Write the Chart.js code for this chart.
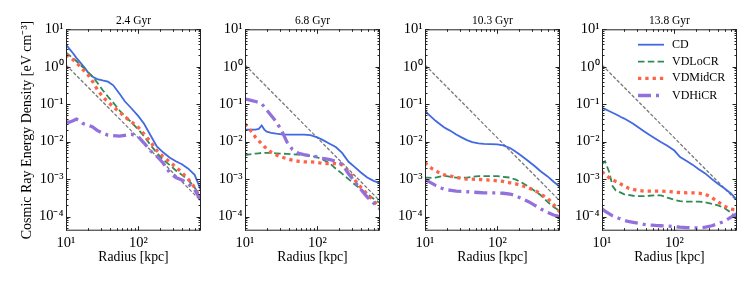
<!DOCTYPE html>
<html>
<head>
<meta charset="utf-8">
<script src="https://cdn.jsdelivr.net/npm/chart.js@4.4.0/dist/chart.umd.min.js"></script>
<style>
  body { margin: 0; background: #fff; }
  #wrap { position: relative; width: 753px; height: 283px; }
  #wrap canvas { position: absolute; top: 0; }
</style>
</head>
<body>
<div id="wrap">
  <canvas id="c0" width="203" height="283" style="left:0px"></canvas>
  <canvas id="c1" width="181" height="283" style="left:201px"></canvas>
  <canvas id="c2" width="181" height="283" style="left:381px"></canvas>
  <canvas id="c3" width="181" height="283" style="left:558px"></canvas>
</div>
<script>
// radii in kpc, shared by every curve
const radius = [10, 11, 12.5, 14, 15.5, 17, 18.5, 20, 23, 27, 32, 38, 45, 55, 65, 80, 100, 120, 150, 180, 220, 270, 330, 400, 490, 600, 735];

// grey reference line (two end points)
const refRadius = [10, 735];
const refLine = [1.12, 2.6e-4];

const times = ["2.4 Gyr", "6.8 Gyr", "10.3 Gyr", "13.8 Gyr"];
const names = ["CD", "VDLoCR", "VDMidCR", "VDHiCR"];

// 2.4 Gyr
const cd24 = [3.9, 3.1, 2.3, 1.7, 1.35, 1.1, 0.9, 0.72, 0.55, 0.47, 0.43, 0.40, 0.32, 0.19, 0.12, 0.078, 0.048, 0.030, 0.014, 0.0075, 0.0052, 0.0038, 0.003, 0.0025, 0.0019, 0.0013, 0.0005];
const lo24 = [2.4, 2.05, 1.7, 1.4, 1.17, 0.98, 0.85, 0.72, 0.56, 0.38, 0.24, 0.16, 0.11, 0.068, 0.048, 0.033, 0.021, 0.014, 0.0078, 0.005, 0.0033, 0.0024, 0.0017, 0.0013, 0.00095, 0.0006, 0.00032];
const mid24 = [2.1, 1.85, 1.55, 1.25, 1.05, 0.85, 0.73, 0.62, 0.42, 0.25, 0.16, 0.115, 0.085, 0.062, 0.046, 0.034, 0.024, 0.016, 0.0095, 0.0058, 0.004, 0.0029, 0.0021, 0.0015, 0.001, 0.0006, 0.00028];
const hi24 = [0.034, 0.033, 0.036, 0.040, 0.036, 0.031, 0.029, 0.028, 0.025, 0.020, 0.017, 0.015, 0.0145, 0.014, 0.0148, 0.0158, 0.0135, 0.0092, 0.0055, 0.0041, 0.0027, 0.0015, 0.0011, 0.00095, 0.00075, 0.00052, 0.00028];

// 6.8 Gyr
const cd68 = [0.021, 0.021, 0.021, 0.021, 0.022, 0.027, 0.021, 0.0185, 0.0172, 0.0163, 0.0157, 0.0155, 0.0155, 0.0155, 0.0155, 0.015, 0.013, 0.011, 0.0087, 0.0072, 0.005, 0.0029, 0.0021, 0.0015, 0.0011, 0.0009, 0.00078];
const lo68 = [0.0043, 0.0045, 0.0047, 0.0048, 0.0049, 0.005, 0.005, 0.005, 0.005, 0.0049, 0.0048, 0.0047, 0.0046, 0.0045, 0.0044, 0.0042, 0.0038, 0.0033, 0.0026, 0.0019, 0.0014, 0.001, 0.00072, 0.00054, 0.0004, 0.0003, 0.00023];
const mid68 = [0.03, 0.024, 0.018, 0.013, 0.0105, 0.0088, 0.0074, 0.0065, 0.0052, 0.0044, 0.0039, 0.0035, 0.0032, 0.003, 0.0029, 0.0029, 0.0028, 0.0026, 0.0026, 0.0026, 0.0024, 0.0016, 0.00095, 0.0006, 0.0004, 0.00026, 0.00017];
const hi68 = [0.137, 0.132, 0.125, 0.118, 0.112, 0.103, 0.085, 0.07, 0.05, 0.034, 0.02, 0.0098, 0.0063, 0.0049, 0.0045, 0.0042, 0.0039, 0.0036, 0.0033, 0.003, 0.0025, 0.0014, 0.00085, 0.00053, 0.00033, 0.00023, 0.00016];

// 10.3 Gyr
const cd103 = [0.068, 0.055, 0.044, 0.036, 0.031, 0.027, 0.024, 0.022, 0.019, 0.0155, 0.013, 0.011, 0.0097, 0.009, 0.0087, 0.0086, 0.0085, 0.008, 0.0068, 0.0054, 0.0041, 0.003, 0.0022, 0.0016, 0.0012, 0.00085, 0.00062];
const lo103 = [0.0011, 0.0011, 0.00108, 0.0011, 0.00115, 0.0012, 0.0012, 0.0012, 0.00115, 0.0011, 0.0011, 0.0011, 0.00115, 0.0012, 0.0012, 0.0012, 0.0012, 0.00115, 0.0011, 0.00097, 0.0008, 0.00063, 0.00048, 0.00037, 0.00025, 0.00018, 0.00014];
const mid103 = [0.0028, 0.0023, 0.0019, 0.0017, 0.0015, 0.0014, 0.0013, 0.00125, 0.0012, 0.0011, 0.00105, 0.001, 0.001, 0.00098, 0.00096, 0.00094, 0.0009, 0.00087, 0.0008, 0.00075, 0.00067, 0.00058, 0.0005, 0.0004, 0.00031, 0.00021, 0.00013];
const hi103 = [0.001, 0.00088, 0.00077, 0.00068, 0.00062, 0.00057, 0.00054, 0.00052, 0.0005, 0.00048, 0.00047, 0.00046, 0.00045, 0.00044, 0.00043, 0.00043, 0.00043, 0.00042, 0.0004, 0.00036, 0.0003, 0.00025, 0.0002, 0.00016, 0.00013, 0.00011, 0.0001];

// 13.8 Gyr
const cd138 = [0.08, 0.074, 0.066, 0.059, 0.054, 0.049, 0.045, 0.042, 0.036, 0.030, 0.024, 0.019, 0.0152, 0.012, 0.0098, 0.0078, 0.0058, 0.0039, 0.003, 0.0024, 0.0018, 0.0014, 0.001, 0.00075, 0.00057, 0.00042, 0.00028];
const lo138 = [0.0025, 0.003, 0.0016, 0.00065, 0.0005, 0.00046, 0.00043, 0.0004, 0.00038, 0.00036, 0.00035, 0.00035, 0.00036, 0.00037, 0.00037, 0.00032, 0.00028, 0.00026, 0.00025, 0.00025, 0.00025, 0.00024, 0.00022, 0.0002, 0.00017, 0.00013, 0.00009];
const mid138 = [0.0016, 0.0013, 0.0011, 0.00095, 0.00087, 0.00082, 0.00072, 0.00066, 0.00058, 0.00053, 0.0005, 0.00048, 0.00048, 0.00048, 0.00048, 0.00047, 0.00045, 0.00044, 0.00043, 0.00043, 0.00042, 0.00039, 0.00032, 0.00025, 0.00019, 0.00016, 0.00015];
const hi138 = [0.00016, 0.00014, 0.00012, 0.000105, 0.000097, 0.00009, 0.000085, 0.00008, 0.000074, 0.00007, 0.000066, 0.000062, 0.00006, 0.000058, 0.000057, 0.000056, 0.000054, 0.000052, 0.000051, 0.00005, 0.00005, 0.000052, 0.000057, 0.000064, 0.000075, 0.000095, 0.00012];

const xTicks = [10, 100];
const yTicks = [1e-4, 1e-3, 1e-2, 1e-1, 1, 10];

const panels = [
  [cd24, lo24, mid24, hi24],
  [cd68, lo68, mid68, hi68],
  [cd103, lo103, mid103, hi103],
  [cd138, lo138, mid138, hi138],
];

const styles = [
  { color: "#4169e1", width: 1.8, dash: [] },
  { color: "#2e8b57", width: 1.8, dash: [6.5, 3.3] },
  { color: "#ff6347", width: 3.3, dash: [3.3, 4] },
  { color: "#9370db", width: 3.3, dash: [13, 5, 3, 5] },
];

const serif = "'Liberation Serif', 'Times New Roman', serif";
const axW = [66, 44, 44, 44];

const sup = { "-": "\u207b", "0": "\u2070", "1": "\u00b9", "2": "\u00b2", "3": "\u00b3", "4": "\u2074" };
function pow10(v) {
  const e = Math.round(Math.log10(v));
  return "10" + String(e).split("").map((c) => sup[c]).join("");
}

// inward ticks on all four sides + frame
const framePlugin = {
  id: "frame",
  afterDraw(chart) {
    const { ctx, chartArea: a } = chart;
    const x = chart.scales.x, y = chart.scales.y;
    ctx.save();
    ctx.strokeStyle = "#222";
    ctx.lineWidth = 1;
    ctx.beginPath();
    for (let n = 1; n <= 2; n++) {
      for (let k = 1; k <= 9; k++) {
        const v = k * Math.pow(10, n);
        if (v > x.max) continue;
        const px = Math.round(x.getPixelForValue(v)) + 0.5;
        const len = k === 1 ? 4.5 : 2.5;
        ctx.moveTo(px, a.bottom); ctx.lineTo(px, a.bottom - len);
        ctx.moveTo(px, a.top); ctx.lineTo(px, a.top + len);
      }
    }
    for (let n = -5; n <= 1; n++) {
      for (let k = 1; k <= 9; k++) {
        const v = k * Math.pow(10, n);
        if (v < y.min || v > y.max) continue;
        const py = Math.round(y.getPixelForValue(v)) + 0.5;
        const len = k === 1 ? 4.5 : 2.5;
        ctx.moveTo(a.left, py); ctx.lineTo(a.left + len, py);
        ctx.moveTo(a.right, py); ctx.lineTo(a.right - len, py);
      }
    }
    ctx.stroke();
    ctx.strokeRect(a.left + 0.5, a.top + 0.5, a.right - a.left - 1, a.bottom - a.top - 1);
    ctx.restore();
  },
};

// legend drawn inside the last panel
const legendPlugin = {
  id: "insideLegend",
  afterDraw(chart) {
    const { ctx, chartArea: a } = chart;
    const rows = [15.4, 32.4, 49, 66.2];
    ctx.save();
    chart.data.datasets.slice(0, 4).forEach((ds, k) => {
      const yy = a.top + rows[k];
      ctx.strokeStyle = ds.borderColor;
      ctx.lineWidth = ds.borderWidth;
      ctx.setLineDash(ds.borderDash);
      ctx.lineCap = "butt";
      ctx.beginPath();
      ctx.moveTo(a.left + 36, yy);
      ctx.lineTo(a.left + 62, yy);
      ctx.stroke();
      ctx.setLineDash([]);
      ctx.fillStyle = "#000";
      ctx.font = "12px " + serif;
      ctx.textBaseline = "middle";
      ctx.fillText(ds.label, a.left + 70, yy);
    });
    ctx.restore();
  },
};

function makePanel(i) {
  const datasets = panels[i].map((vals, k) => ({
    label: names[k],
    data: radius.map((r, j) => ({ x: r, y: vals[j] })),
    borderColor: styles[k].color,
    borderWidth: styles[k].width,
    borderDash: styles[k].dash,
    borderCapStyle: "butt",
    pointRadius: 0,
    fill: false,
    tension: 0,
    order: 4 - k,
  }));
  datasets.push({
    label: "ref",
    data: refRadius.map((r, j) => ({ x: r, y: refLine[j] })),
    borderColor: "#7a7a7a",
    borderWidth: 1.3,
    borderDash: [3.5, 1.8],
    pointRadius: 0,
    fill: false,
    order: 5,
  });

  const plugins = [framePlugin];
  if (i === 3) plugins.push(legendPlugin);

  new Chart(document.getElementById("c" + i), {
    type: "line",
    data: { datasets: datasets },
    plugins: plugins,
    options: {
      responsive: false,
      animation: false,
      events: [],
      layout: { padding: { right: 2 } },
      plugins: { legend: { display: false }, tooltip: { enabled: false } },
      scales: {
        x: {
          type: "logarithmic",
          position: "bottom",
          min: 10,
          max: 735,
          grid: { display: false, drawTicks: false },
          border: { display: false },
          afterBuildTicks: (s) => { s.ticks = xTicks.map((v) => ({ value: v })); },
          afterFit: (s) => { s.height = 52.3; },
          ticks: {
            autoSkip: false,
            maxRotation: 0,
            padding: 4,
            color: "#000",
            font: { family: serif, size: 14.5 },
            callback: (v) => pow10(v),
          },
          title: {
            display: true,
            text: "Radius [kpc]",
            color: "#000",
            font: { family: serif, size: 13.7 },
            padding: { top: 0, bottom: 17 },
          },
        },
        top: {
          type: "logarithmic",
          position: "top",
          min: 10,
          max: 735,
          grid: { display: false, drawTicks: false },
          border: { display: false },
          ticks: { display: false },
          afterFit: (s) => { s.height = 29.3; },
          title: {
            display: true,
            text: times[i],
            color: "#000",
            font: { family: serif, size: 11.5 },
            padding: { top: 14, bottom: 0 },
          },
        },
        y: {
          type: "logarithmic",
          position: "left",
          min: 4.2e-5,
          max: 10,
          grid: { display: false, drawTicks: false },
          border: { display: false },
          afterBuildTicks: (s) => { s.ticks = yTicks.map((v) => ({ value: v })); },
          afterFit: (s) => { s.width = axW[i]; },
          ticks: {
            autoSkip: false,
            padding: 2.5,
            color: "#000",
            font: { family: serif, size: 14.5 },
            callback: (v) => pow10(v),
          },
          title: {
            display: i === 0,
            text: "Cosmic Ray Energy Density [eV cm\u207b\u00b3]",
            color: "#000",
            font: { family: serif, size: 14 },
            padding: { top: 18.6, bottom: 0 },
          },
        },
      },
    },
  });
}

for (let i = 0; i < 4; i++) makePanel(i);
</script>
</body>
</html>
